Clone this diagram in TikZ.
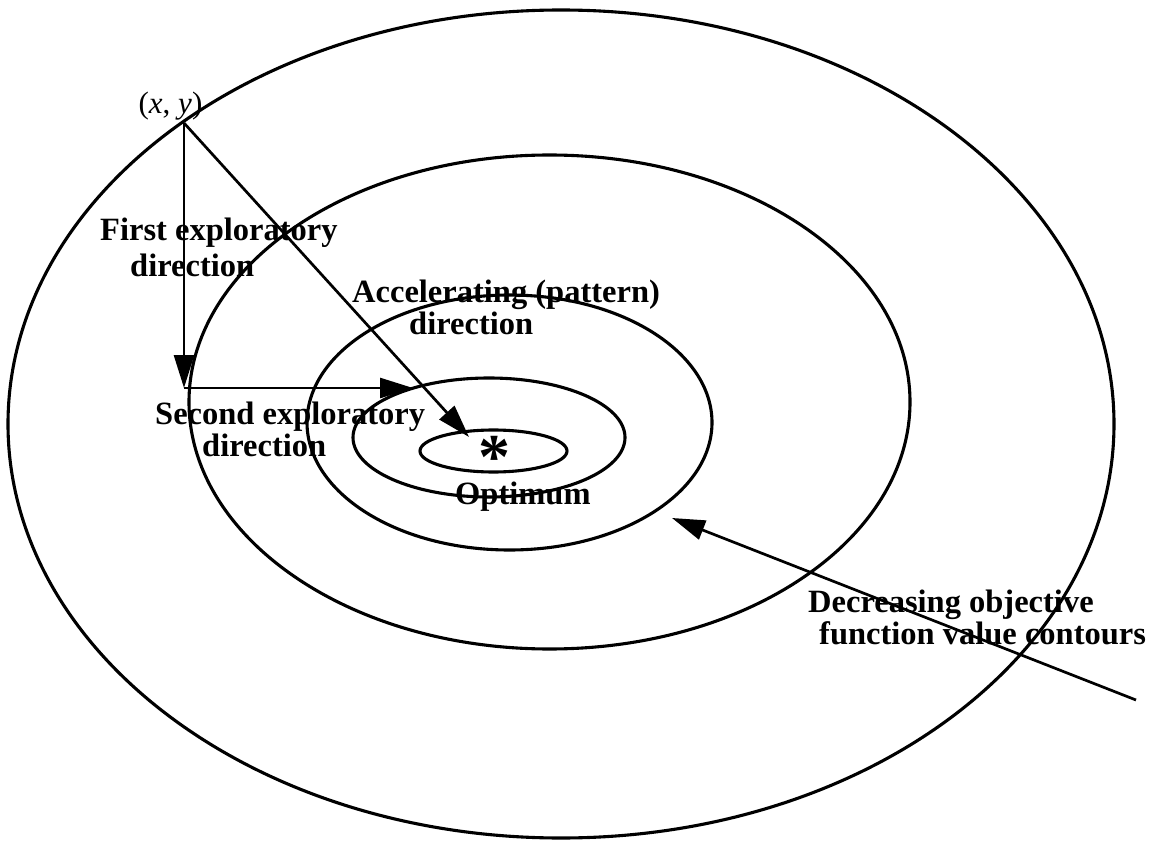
\documentclass[tikz,border=0pt]{standalone}
\usepackage{fontspec}
\setmainfont{Liberation Serif}
\usetikzlibrary{arrows.meta}
\begin{document}
\begin{tikzpicture}[x=1pt,y=-1pt,
  contour/.style={line width=3.1pt},
  dirarrow/.style={line width=2.7pt,-{Triangle[length=33pt,width=20pt]}},
  lbl/.style={font=\fontsize{32.5}{32}\selectfont\bfseries, inner sep=0pt, align=left, anchor=north west},
  pointlbl/.style={font=\fontsize{31}{31}\selectfont, inner sep=0pt, anchor=base}]
\useasboundingbox (0,0) rectangle (1154,842);

% objective function contours, outermost first
\draw[contour] (561,424)   ellipse [x radius=553,   y radius=414];
\draw[contour] (549.5,402) ellipse [x radius=360.5, y radius=247];
\draw[contour] (509.5,422.5) ellipse [x radius=202.5, y radius=127.5];
\draw[contour] (489,437.5) ellipse [x radius=136,   y radius=59.5];
\draw[contour] (493.5,451) ellipse [x radius=73.5,  y radius=21];

% search points
\coordinate (start)  at (184,123);
\coordinate (first)  at (184,388);
\coordinate (second) at (413,388);
\coordinate (target) at (469,437);
\coordinate (ctail)  at (1136,700);
\coordinate (chead)  at (672,518);

% optimum marker
\node[font=\fontsize{64}{64}\selectfont\bfseries, inner sep=0pt, anchor=base] (star) at (494,478) {*};

% labels
\node[pointlbl] (xy) at (170.5,114) {(\textit{x}, \textit{y})};
\node[lbl] (lfirst) at (100,218) {First exploratory\\[4pt]\hspace*{30pt}direction};
\node[lbl] (laccel) at (352,280) {Accelerating (pattern)\\\hspace*{57pt}direction};
\node[lbl] (lsecond) at (155,402) {Second exploratory\\\hspace*{47pt}direction};
\node[lbl] (lopt) at (455,482) {Optimum};
\node[lbl] (lcont) at (808,590) {Decreasing objective\\\hspace*{11pt}function value contours};

% exploratory and pattern moves
\draw[dirarrow] (start) -- (first);
\draw[dirarrow] (first) -- (second);
\draw[dirarrow] (start) -- (target);
\draw[dirarrow] (ctail) -- (chead);
\end{tikzpicture}
\end{document}
